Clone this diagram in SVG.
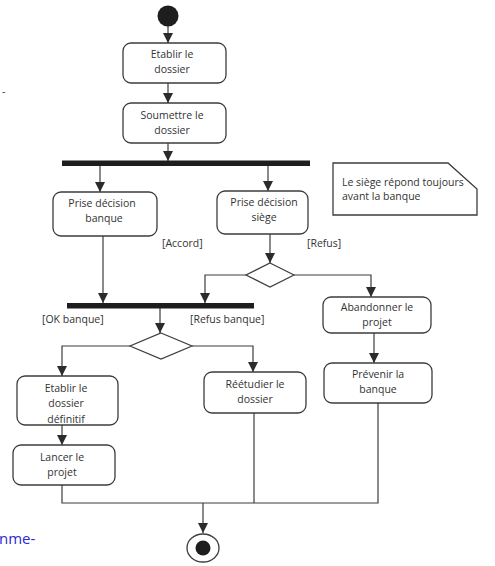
<svg xmlns="http://www.w3.org/2000/svg" width="495" height="566" viewBox="0 0 495 566">
<defs>
<marker id="arr" markerUnits="userSpaceOnUse" markerWidth="10" markerHeight="10" refX="10" refY="5" orient="auto">
<path d="M0,0 L10,5 L0,10 z" fill="#2b2b2b"/>
</marker>
</defs>
<style>
.box{fill:#fff;stroke:#3c3c3c;stroke-width:1.3}
.t{font-family:"Open Sans","Liberation Sans",sans-serif;font-size:10.5px;fill:#333;text-anchor:middle}
.lbl{font-family:"Open Sans","Liberation Sans",sans-serif;font-size:10.5px;fill:#333}
.c{fill:none;stroke:#3c3c3c;stroke-width:1.2}
.bar{fill:#1e1e1e}
</style>
<rect width="495" height="566" fill="#fff"/>
<text x="2" y="95" class="lbl" font-size="12">-</text>
<text x="-1" y="544" style="font-family:'Open Sans','Liberation Sans',sans-serif;font-size:15px;fill:#2a2ad0">nme-</text>

<g id="connectors">
<path class="c" d="M168,26 V43" marker-end="url(#arr)"/>
<path class="c" d="M168,83 V103" marker-end="url(#arr)"/>
<path class="c" d="M168,143 V161" marker-end="url(#arr)"/>
<path class="c" d="M100,166 V192" marker-end="url(#arr)"/>
<path class="c" d="M268,166 V191" marker-end="url(#arr)"/>
<path class="c" d="M103,236 V303" marker-end="url(#arr)"/>
<path class="c" d="M270,234 V263" marker-end="url(#arr)"/>
<path class="c" d="M246,275 H205 V303" marker-end="url(#arr)"/>
<path class="c" d="M294,275 H371 V297" marker-end="url(#arr)"/>
<path class="c" d="M374,333 V363" marker-end="url(#arr)"/>
<path class="c" d="M160,308 V333" marker-end="url(#arr)"/>
<path class="c" d="M130,346 H62 V376" marker-end="url(#arr)"/>
<path class="c" d="M192,346 H253 V372" marker-end="url(#arr)"/>
<path class="c" d="M62,425 V445" marker-end="url(#arr)"/>
<path class="c" d="M62,485 V503 H378 V403"/>
<path class="c" d="M254,413 V503"/>
<path class="c" d="M203,503 V533" marker-end="url(#arr)"/>
</g>

<g id="start"><circle cx="168" cy="16" r="10.5" fill="#1e1e1e"/></g>

<g id="etablir">
<rect class="box" x="123" y="43" width="103" height="40" rx="8"/>
<text class="t" x="172" y="58">Etablir le</text>
<text class="t" x="172" y="73">dossier</text>
</g>

<g id="soumettre">
<rect class="box" x="123" y="103" width="103" height="40" rx="8"/>
<text class="t" x="172" y="119">Soumettre le</text>
<text class="t" x="172" y="134">dossier</text>
</g>

<g id="fork1"><rect class="bar" x="62" y="160.5" width="248" height="5.5"/></g>

<g id="prise-banque">
<rect class="box" x="53" y="192" width="104" height="44" rx="8"/>
<text class="t" x="102" y="207">Prise décision</text>
<text class="t" x="104" y="222">banque</text>
</g>

<g id="prise-siege">
<rect class="box" x="217" y="191" width="91" height="43" rx="8"/>
<text class="t" x="264" y="206">Prise décision</text>
<text class="t" x="264" y="221">siège</text>
</g>

<g id="note">
<path d="M333,163 H448 L477,189 V215 H333 Z" fill="#fff" stroke="#3c3c3c" stroke-width="1.3"/>
<text class="lbl" x="342" y="186">Le siège répond toujours</text>
<text class="lbl" x="342" y="200">avant la banque</text>
</g>

<g id="labels">
<text class="lbl" x="162" y="247">[Accord]</text>
<text class="lbl" x="307" y="247">[Refus]</text>
<text class="lbl" x="42" y="323">[OK banque]</text>
<text class="lbl" x="190" y="323">[Refus banque]</text>
</g>

<g id="decision1"><path d="M270,263 L294,275 L270,287 L246,275 Z" fill="#fff" stroke="#3c3c3c" stroke-width="1.2"/></g>

<g id="join"><rect class="bar" x="67" y="303" width="187" height="5.5"/></g>

<g id="abandonner">
<rect class="box" x="323" y="297" width="108" height="36" rx="8"/>
<text class="t" x="377" y="311">Abandonner le</text>
<text class="t" x="377" y="326">projet</text>
</g>

<g id="prevenir">
<rect class="box" x="324" y="363" width="108" height="40" rx="8"/>
<text class="t" x="378" y="378">Prévenir la</text>
<text class="t" x="378" y="393">banque</text>
</g>

<g id="decision2"><path d="M161,333 L192,346 L161,359 L130,346 Z" fill="#fff" stroke="#3c3c3c" stroke-width="1.2"/></g>

<g id="etablir-definitif">
<rect class="box" x="17" y="376" width="101" height="49" rx="8"/>
<text class="t" x="66" y="392">Etablir le</text>
<text class="t" x="66" y="407">dossier</text>
<text class="t" x="66" y="423">définitif</text>
</g>

<g id="lancer">
<rect class="box" x="13" y="445" width="102" height="40" rx="8"/>
<text class="t" x="62" y="461">Lancer le</text>
<text class="t" x="62" y="476">projet</text>
</g>

<g id="reetudier">
<rect class="box" x="204" y="372" width="102" height="41" rx="8"/>
<text class="t" x="255" y="388">Réétudier le</text>
<text class="t" x="255" y="403">dossier</text>
</g>

<g id="end">
<ellipse cx="203" cy="548" rx="16" ry="14" fill="#fff" stroke="#3c3c3c" stroke-width="1.3"/>
<circle cx="203" cy="548" r="7.5" fill="#1e1e1e"/>
</g>
</svg>
